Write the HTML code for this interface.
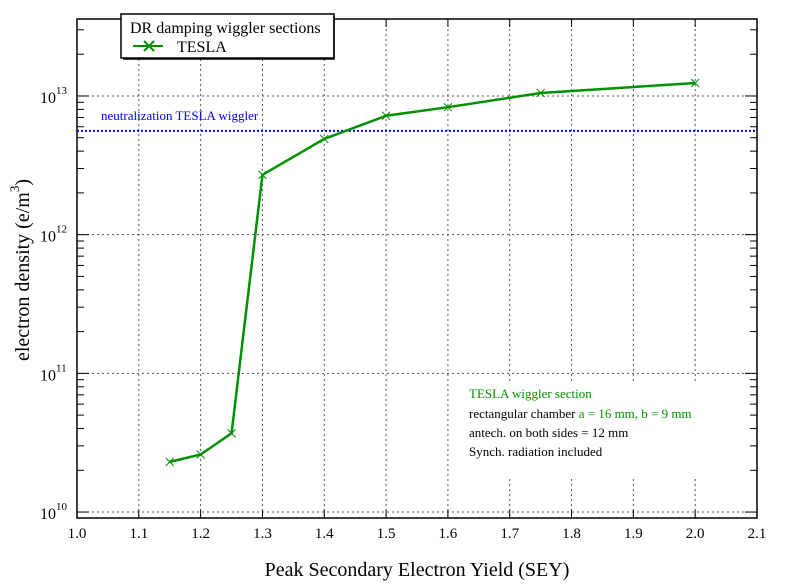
<!DOCTYPE html>
<html><head><meta charset="utf-8"><style>
body{margin:0;background:#fff;}
svg{display:block;font-family:"Liberation Serif",serif;}
</style></head><body>
<svg id="chart" width="794" height="588">
</svg>
<script>
const xVals=[1.15,1.2,1.25,1.3,1.4,1.5,1.6,1.75,2.0];
const yVals=[2.3e10,2.6e10,3.7e10,2.7e12,4.9e12,7.2e12,8.3e12,1.05e13,1.24e13];
const xTicks=[1.0,1.1,1.2,1.3,1.4,1.5,1.6,1.7,1.8,1.9,2.0,2.1];
const yDecades=[10,11,12,13];
const neutralization=5.6e12;

const L=77,R=757,T=19,B=518;
const xMin=1.0,xMax=2.1,lgMin=9.957,lgMax=13.555;
const sx=v=>L+(v-xMin)/(xMax-xMin)*(R-L);
const sy=v=>B-(Math.log10(v)-lgMin)/(lgMax-lgMin)*(B-T);
const svg=document.getElementById('chart');
const NS='http://www.w3.org/2000/svg';
function mk(t,a,txt){const e=document.createElementNS(NS,t);for(const k in a)e.setAttribute(k,a[k]);if(txt!==undefined)e.textContent=txt;svg.appendChild(e);return e;}

// grid
xTicks.slice(1,-1).forEach(v=>{
  const g=mk('line',{x1:sx(v),x2:sx(v),y1:T,y2:B,stroke:'#555','stroke-dasharray':'2,3','stroke-width':1});
  
  
});
yDecades.forEach(d=>{
  const y=sy(Math.pow(10,d));
  const g=mk('line',{x1:L,x2:R,y1:y,y2:y,stroke:'#555','stroke-dasharray':'2,3','stroke-width':1});
  
  
});
// blank area behind annotation
const bl=mk('rect',{x:460,y:382,width:290,height:96,fill:'#fff'});



// frame
const fr=mk('rect',{x:L,y:T,width:R-L,height:B-T,fill:'none',stroke:'#000','stroke-width':1.5});



// x ticks & labels
xTicks.forEach(v=>{
  const x=sx(v);
  const t=mk('line',{x1:x,x2:x,y1:B,y2:B-8,stroke:'#000'});
  
  
  const t2=mk('line',{x1:x,x2:x,y1:T,y2:T+8,stroke:'#000'});
  
  
  const l=mk('text',{x:x,y:538,'font-size':15,'text-anchor':'middle'},v.toFixed(1));
  
  
});
// y ticks
for(let d=9;d<=13;d++){
  for(let m=1;m<10;m++){
    const v=m*Math.pow(10,d);const lg=Math.log10(v);
    if(lg<lgMin||lg>lgMax)continue;
    const y=sy(v);const len=m===1?12:7;
    const t=mk('line',{x1:L,x2:L+len,y1:y,y2:y,stroke:'#000'});
    
    
    const t2=mk('line',{x1:R,x2:R-len,y1:y,y2:y,stroke:'#000'});
    
    
  }
}
yDecades.forEach(d=>{
  const y=sy(Math.pow(10,d));
  const l=mk('text',{x:40,y:y+7,'font-size':16});
  
  
  const a=document.createElementNS(NS,'tspan');a.textContent='10';l.appendChild(a);
  const b=document.createElementNS(NS,'tspan');b.setAttribute('dy','-9');b.setAttribute('font-size','11');b.textContent=String(d);l.appendChild(b);
});

// neutralization line
const ny=sy(neutralization);
const nl=mk('line',{x1:L,x2:R,y1:ny,y2:ny,stroke:'#0000ee','stroke-width':2,'stroke-dasharray':'2,2'});


const nt=mk('text',{x:101,y:120,'font-size':13,fill:'#0000ee'},'neutralization TESLA wiggler');



// series
const pts=xVals.map((x,i)=>sx(x)+','+sy(yVals[i])).join(' ');
const pl=mk('polyline',{points:pts,fill:'none',stroke:'#009000','stroke-width':2.5});


xVals.forEach((x,i)=>{
  const cx=sx(x),cy=sy(yVals[i]);
  const m=mk('path',{d:`M${cx-4},${cy-4}L${cx+4},${cy+4}M${cx-4},${cy+4}L${cx+4},${cy-4}`,stroke:'#009000','stroke-width':1,fill:'none'});
  
  
});

// legend
const lg=mk('rect',{x:121,y:14,width:213,height:44,fill:'#fff',stroke:'#000','stroke-width':1.5});


const sh=mk('path',{d:'M334,16V59H123',stroke:'#000','stroke-width':1.5,fill:'none'});


const lt=mk('text',{x:130,y:33,'font-size':16},'DR damping wiggler sections');


const ll=mk('path',{d:'M133,46H163M144,41L154,51M144,51L154,41',stroke:'#009000','stroke-width':2,fill:'none'});


const le=mk('text',{x:177,y:52,'font-size':16},'TESLA');



// annotation
const a1=mk('text',{x:469,y:398,'font-size':13,fill:'#009000'},'TESLA wiggler section');


const a2=mk('text',{x:469,y:418,'font-size':13});


a2.innerHTML='rectangular chamber <tspan fill="#009000">a = 16 mm, b = 9 mm</tspan>';
const a3=mk('text',{x:469,y:437,'font-size':13},'antech. on both sides = 12 mm');


const a4=mk('text',{x:469,y:456,'font-size':13},'Synch. radiation included');



// axis titles
const xt=mk('text',{x:417,y:576,'font-size':20,'text-anchor':'middle'},'Peak Secondary Electron Yield (SEY)');


const yt=mk('text',{x:0,y:0,'font-size':20,'text-anchor':'middle',transform:'translate(29,270) rotate(-90)'});


yt.innerHTML='electron density (e/m<tspan dy="-10" font-size="13">3</tspan><tspan dy="10">)</tspan>';
</script>
</body></html>
